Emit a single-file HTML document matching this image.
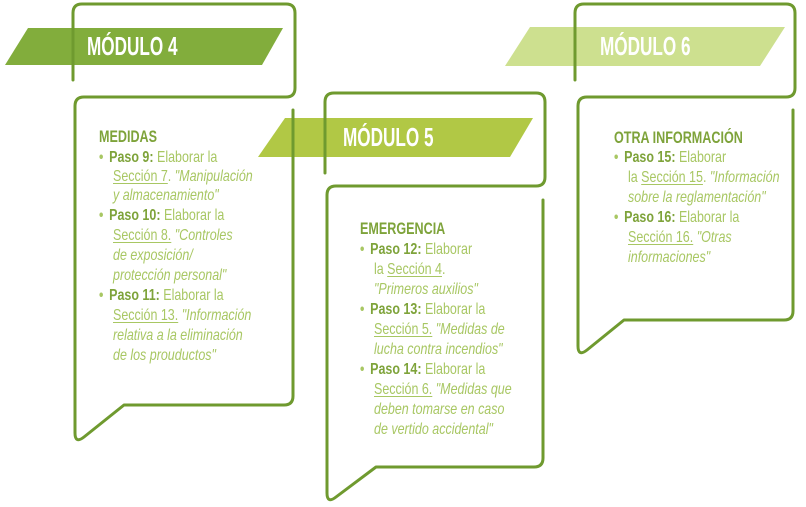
<!DOCTYPE html>
<html><head><meta charset="utf-8"><style>
html,body{margin:0;padding:0;background:#fff;}
body{width:806px;height:507px;position:relative;overflow:hidden;font-family:"Liberation Sans",sans-serif;}
svg{position:absolute;left:0;top:0;}
.t{position:absolute;white-space:nowrap;transform:scaleX(0.78);transform-origin:0 0;font-size:16px;line-height:19px;color:#a8c763;}
.h{font-weight:bold;font-size:17px;color:#7ea33a;transform:scaleX(0.74);}
.b{font-weight:bold;color:#7ea33a;}
.u{text-decoration:underline;text-decoration-thickness:1px;text-underline-offset:2px;}
i{font-style:italic;}
.m{position:absolute;color:#fff;font-weight:bold;font-size:26px;transform:scaleX(0.66);transform-origin:0 0;white-space:nowrap;line-height:30px;}
.dot{display:inline-block;width:13px;font-weight:bold;color:#a8c763;}
</style></head><body>
<svg width="806" height="507" viewBox="0 0 806 507">
<polygon points="28,28 283,28 262,65 5,65" fill="#82ad3c"/>
<polygon points="285,118 533,118 510,157 258,157" fill="#b1c845"/>
<polygon points="530,27 785,27 760,66 505,66" fill="#cde08f"/>
<g fill="none" stroke="#6f9a2f" stroke-width="3" stroke-linecap="round" stroke-linejoin="round">
<path d="M73,80 V13 Q73,4 82,4 H286 Q295,4 295,13 V88 Q295,97 286,97 H84 Q75,97 75,106 V433 Q75,444 84,437 L124,405 H284 Q293,405 293,396 V110"/>
<path d="M325,173 V102 Q325,93 334,93 H536 Q545,93 545,102 V177 Q545,186 536,186 H336 Q327,186 327,195 V493 Q327,504 336,497 L376,467 H534 Q543,467 543,458 V200"/>
<path d="M575,80 V13 Q575,4 584,4 H786 Q795,4 795,13 V88 Q795,97 786,97 H587 Q578,97 578,106 V346 Q578,357 587,350 L624,320 H784 Q793,320 793,311 V110"/>
</g>
</svg>
<div class="m" style="left:87px;top:31px;">MÓDULO 4</div>
<div class="m" style="left:343px;top:122px;">MÓDULO 5</div>
<div class="m" style="left:600px;top:31px;">MÓDULO 6</div>

<div class="t h" style="left:99px;top:127px;">MEDIDAS</div>
<div class="t" style="left:99px;top:148px;"><span class="dot">•</span><span class="b">Paso 9:</span> Elaborar la</div>
<div class="t" style="left:113px;top:167px;"><span class="u">Sección 7</span>. <i>"Manipulación</i></div>
<div class="t" style="left:113px;top:186px;"><i>y almacenamiento"</i></div>
<div class="t" style="left:99px;top:206px;"><span class="dot">•</span><span class="b">Paso 10:</span> Elaborar la</div>
<div class="t" style="left:113px;top:226px;"><span class="u">Sección 8.</span> <i>"Controles</i></div>
<div class="t" style="left:113px;top:246px;"><i>de exposición/</i></div>
<div class="t" style="left:113px;top:266px;"><i>protección personal"</i></div>
<div class="t" style="left:99px;top:286px;"><span class="dot">•</span><span class="b">Paso 11:</span> Elaborar la</div>
<div class="t" style="left:113px;top:306px;"><span class="u">Sección 13.</span> <i>"Información</i></div>
<div class="t" style="left:113px;top:326px;"><i>relativa a la eliminación</i></div>
<div class="t" style="left:113px;top:346px;"><i>de los prouductos"</i></div>

<div class="t h" style="left:360px;top:219px;">EMERGENCIA</div>
<div class="t" style="left:360px;top:240px;"><span class="dot">•</span><span class="b">Paso 12:</span> Elaborar</div>
<div class="t" style="left:374px;top:260px;">la <span class="u">Sección 4</span>.</div>
<div class="t" style="left:374px;top:280px;"><i>"Primeros auxilios"</i></div>
<div class="t" style="left:360px;top:300px;"><span class="dot">•</span><span class="b">Paso 13:</span> Elaborar la</div>
<div class="t" style="left:374px;top:320px;"><span class="u">Sección 5.</span> <i>"Medidas de</i></div>
<div class="t" style="left:374px;top:340px;"><i>lucha contra incendios"</i></div>
<div class="t" style="left:360px;top:360px;"><span class="dot">•</span><span class="b">Paso 14:</span> Elaborar la</div>
<div class="t" style="left:374px;top:380px;"><span class="u">Sección 6.</span> <i>"Medidas que</i></div>
<div class="t" style="left:374px;top:400px;"><i>deben tomarse en caso</i></div>
<div class="t" style="left:374px;top:420px;"><i>de vertido accidental"</i></div>

<div class="t h" style="left:614px;top:128px;">OTRA INFORMACIÓN</div>
<div class="t" style="left:614px;top:148px;"><span class="dot">•</span><span class="b">Paso 15:</span> Elaborar</div>
<div class="t" style="left:628px;top:168px;">la <span class="u">Sección 15</span>. <i>"Información</i></div>
<div class="t" style="left:628px;top:188px;"><i>sobre la reglamentación"</i></div>
<div class="t" style="left:614px;top:208px;"><span class="dot">•</span><span class="b">Paso 16:</span> Elaborar la</div>
<div class="t" style="left:628px;top:228px;"><span class="u">Sección 16.</span> <i>"Otras</i></div>
<div class="t" style="left:628px;top:248px;"><i>informaciones"</i></div>
</body></html>
